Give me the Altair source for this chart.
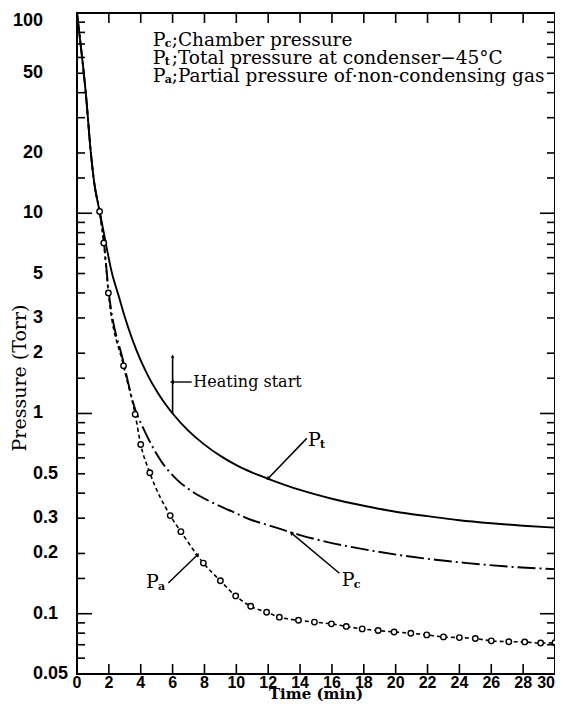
import altair as alt
import pandas as pd

# ---------------- data ----------------
pt_time = [0, 0.3, 0.55, 0.87, 1.08, 1.42, 1.68, 2.2, 2.6, 3.0, 3.5, 4.0, 4.5, 5.0, 5.5, 6.0,
           7.0, 8.0, 9.0, 10.0, 11.0, 12.0, 14.0, 16.0, 18.0, 20.0, 22.0, 24.0, 26.0, 28.0, 30.0]
pt_pres = [100, 62, 40, 20, 14.2, 10.2, 8.0, 5.0, 3.9, 3.03, 2.31, 1.84, 1.52, 1.296, 1.128, 1.0,
           0.819, 0.699, 0.614, 0.552, 0.507, 0.472, 0.415, 0.375, 0.346, 0.323, 0.307, 0.293,
           0.283, 0.275, 0.269]

pc_time = [0, 0.3, 0.55, 0.87, 1.08, 1.42, 1.68, 1.97, 2.92, 3.65, 4.2, 4.75, 5.3, 6.3, 7.25,
           8.4, 9.7, 11.0, 12.0, 14.0, 15.6, 17.7, 20.3, 22.5, 24.5, 27.0, 30.0]
pc_pres = [100, 62, 40, 20, 14.2, 10.2, 7.3, 4.2, 1.8, 1.05, 0.83, 0.68, 0.575, 0.465, 0.407,
           0.362, 0.325, 0.293, 0.277, 0.247, 0.229, 0.212, 0.196, 0.186, 0.179, 0.172, 0.167]

pa_head_time = [0, 0.3, 0.55, 0.87, 1.08]
pa_head_pres = [100, 62, 40, 20, 14.2]
pa_time = [1.42, 1.68, 1.97, 2.92, 3.65, 4.0, 4.57, 5.85, 6.52, 7.93, 9.0, 9.96, 10.9, 11.9,
           12.7, 13.9, 14.9, 15.97, 16.9, 17.9, 18.9, 19.9, 20.95, 21.95, 23.0, 24.0, 25.0,
           26.0, 27.1, 28.1, 29.1, 30.0]
pa_pres = [10.2, 7.1, 4.0, 1.73, 0.99, 0.70, 0.506, 0.309, 0.257, 0.179, 0.146, 0.1227, 0.109,
           0.1017, 0.0961, 0.0927, 0.0908, 0.089, 0.0864, 0.084, 0.0824, 0.0811, 0.0799, 0.0784,
           0.0766, 0.076, 0.0752, 0.0732, 0.0725, 0.0723, 0.0714, 0.0716]

y_major_ticks = [10, 1, 0.1]
y_minor_ticks = [90, 80, 70, 60, 50, 40, 30, 20, 15, 9, 8, 7, 6, 5, 4, 3, 2, 1.5,
                 0.9, 0.8, 0.7, 0.6, 0.5, 0.4, 0.3, 0.2, 0.15, 0.09, 0.08, 0.07, 0.06]
x_ticks = [2, 4, 6, 8, 10, 12, 14, 16, 18, 20, 22, 24, 26, 28]
x_labels = [0, 2, 4, 6, 8, 10, 12, 14, 16, 18, 20, 22, 24, 26, 28]
x_last_label = [30]
y_top_label = [100]
y_int_labels = [50, 20, 10, 5, 3, 2, 1]
y_dec_labels = [0.5, 0.3, 0.2, 0.1, 0.05]
x_title = "Time (min)"
y_title = "Pressure (Torr)"

legend_sym = ["P", "P", "P"]
legend_sub = ["c", "t", "a"]
legend_rest = [";Chamber pressure",
               ";Total pressure at condenser\u221245\u00b0C",
               ";Partial pressure of\u00b7non-condensing gas"]
legend_time = [4.75, 4.75, 4.75]
legend_pres = [73.0, 59.5, 48.7]

heat_time = 6.0
heat_line_pres = [1.0, 1.92]
heat_arrow_time = [6.0, 7.2]
heat_arrow_pres = 1.436
heat_text = "Heating start"
heat_text_time = 7.3

# curve labels: label position, arrow start, arrow end
lab_name = ["P", "P", "P"]
lab_sub = ["t", "c", "a"]
lab_time = [14.5, 16.62, 4.33]
lab_pres = [0.737, 0.1474, 0.1445]
arr_t0 = [14.42, 16.47, 5.73]
arr_p0 = [0.751, 0.1592, 0.1424]
arr_t1 = [12.01, 13.48, 7.55]
arr_p1 = [0.475, 0.252, 0.1964]

# ---------------- chart ----------------
W, H = 478, 661
SERIF = "DejaVu Serif"
SANS = "Liberation Sans"

xs = alt.Scale(domain=[0, 30], nice=False, zero=False)
ys = alt.Scale(type="log", domain=[0.05, 100], nice=False)


def X(field):
    return alt.X(field, type="quantitative", scale=xs, axis=None)


def Y(field):
    return alt.Y(field, type="quantitative", scale=ys, axis=None)


pt_df = pd.DataFrame({"t": pt_time, "p": pt_pres})
pc_df = pd.DataFrame({"t": pc_time, "p": pc_pres})
pa_line_df = pd.DataFrame({"t": pa_head_time + pa_time, "p": pa_head_pres + pa_pres})
pa_df = pd.DataFrame({"t": pa_time, "p": pa_pres})

pt_line = alt.Chart(pt_df).mark_line(color="black", strokeWidth=1.9, interpolate="monotone").encode(
    x=X("t"), y=Y("p"))
pc_line = alt.Chart(pc_df).mark_line(color="black", strokeWidth=1.9, interpolate="monotone",
                                     strokeDash=[18, 4, 2, 4]).encode(x=X("t"), y=Y("p"))
pa_line = alt.Chart(pa_line_df).mark_line(color="black", strokeWidth=1.6, interpolate="monotone",
                                          strokeDash=[4, 3]).encode(x=X("t"), y=Y("p"))
pa_pts = alt.Chart(pa_df).mark_point(shape="circle", size=30, filled=True, fill="white",
                                     stroke="black", strokeWidth=1.4, opacity=1).encode(x=X("t"), y=Y("p"))

# inward ticks
ymaj = pd.DataFrame({"v": y_major_ticks})
ymin = pd.DataFrame({"v": y_minor_ticks})
xt = pd.DataFrame({"t": x_ticks})
tick_style = dict(color="black", strokeWidth=1.6)
ticks = [
    alt.Chart(ymaj).mark_rule(**tick_style).encode(y=Y("v"), x=alt.value(0), x2=alt.value(15)),
    alt.Chart(ymin).mark_rule(**tick_style).encode(y=Y("v"), x=alt.value(0), x2=alt.value(8)),
    alt.Chart(ymaj).mark_rule(**tick_style).encode(y=Y("v"), x=alt.value(W - 15), x2=alt.value(W)),
    alt.Chart(ymin).mark_rule(**tick_style).encode(y=Y("v"), x=alt.value(W - 8), x2=alt.value(W)),
    alt.Chart(xt).mark_rule(**tick_style).encode(x=X("t"), y=alt.value(H), y2=alt.value(H - 10)),
    alt.Chart(xt).mark_rule(**tick_style).encode(x=X("t"), y=alt.value(0), y2=alt.value(10)),
]

# tick labels and axis titles
lab_font = dict(font=SANS, fontWeight="bold", fontSize=18, color="black")
xlab_font = dict(font=SANS, fontWeight="bold", fontSize=16, color="black")
labels = [
    alt.Chart(pd.DataFrame({"v": y_top_label})).mark_text(align="right", baseline="top", dy=-1, **lab_font)
    .encode(y=Y("v"), x=alt.value(-34), text=alt.Text("v:Q", format="~g")),
    alt.Chart(pd.DataFrame({"v": y_int_labels})).mark_text(align="right", baseline="middle", **lab_font)
    .encode(y=Y("v"), x=alt.value(-34), text=alt.Text("v:Q", format="~g")),
    alt.Chart(pd.DataFrame({"v": y_dec_labels})).mark_text(align="left", baseline="middle", **lab_font)
    .encode(y=Y("v"), x=alt.value(-44), text=alt.Text("v:Q", format="~g")),
    alt.Chart(pd.DataFrame({"t": x_labels})).mark_text(align="center", baseline="top", **xlab_font)
    .encode(x=X("t"), y=alt.value(H + 1), text=alt.Text("t:Q", format="d")),
    alt.Chart(pd.DataFrame({"t": x_last_label})).mark_text(align="right", baseline="top", **xlab_font)
    .encode(x=X("t"), y=alt.value(H + 1), text=alt.Text("t:Q", format="d")),
    alt.Chart(pd.DataFrame({"s": [x_title]})).mark_text(align="center", baseline="alphabetic", font=SERIF,
                                                        fontSize=15, fontWeight="bold", color="black")
    .encode(x=alt.value(W / 2), y=alt.value(H + 25), text="s:N"),
    alt.Chart(pd.DataFrame({"s": [y_title]})).mark_text(align="center", baseline="middle", font=SERIF,
                                                        fontSize=19, angle=270, color="black")
    .encode(x=alt.value(-57), y=alt.value(365), text="s:N"),
]

# legend block
leg_df = pd.DataFrame({"t": legend_time, "p": legend_pres, "sym": legend_sym,
                       "sub": legend_sub, "rest": legend_rest})
legend = [
    alt.Chart(leg_df).mark_text(align="left", baseline="middle", font=SERIF, fontSize=19, color="black")
    .encode(x=X("t"), y=Y("p"), text="sym:N"),
    alt.Chart(leg_df).mark_text(align="left", baseline="middle", font=SERIF, fontSize=11, dx=12, dy=4,
                                color="black", fontWeight="bold")
    .encode(x=X("t"), y=Y("p"), text="sub:N"),
    alt.Chart(leg_df).mark_text(align="left", baseline="middle", font=SERIF, fontSize=18.5, dx=19, color="black")
    .encode(x=X("t"), y=Y("p"), text="rest:N"),
]

# heating start annotation
heat_v = pd.DataFrame({"t": [heat_time, heat_time], "p": heat_line_pres})
heat_h = pd.DataFrame({"t": heat_arrow_time, "p": [heat_arrow_pres, heat_arrow_pres]})
heat = [
    alt.Chart(heat_v).mark_line(color="black", strokeWidth=1.6).encode(x=X("t"), y=Y("p")),
    alt.Chart(heat_v.iloc[[1]]).mark_point(shape="triangle", angle=0, size=14, filled=True,
                                           color="black", opacity=1).encode(x=X("t"), y=Y("p")),
    alt.Chart(heat_h).mark_line(color="black", strokeWidth=1.4).encode(x=X("t"), y=Y("p")),
    alt.Chart(heat_h.iloc[[0]]).mark_point(shape="triangle", angle=270, size=22, filled=True,
                                           color="black", opacity=1, dx=3).encode(x=X("t"), y=Y("p")),
    alt.Chart(pd.DataFrame({"t": [heat_text_time], "p": [heat_arrow_pres], "s": [heat_text]}))
    .mark_text(align="left", baseline="middle", font=SERIF, fontSize=16, color="black")
    .encode(x=X("t"), y=Y("p"), text="s:N"),
]

# curve labels with arrows
angles = [225, 309, 46]
curve_labels = []
for i in range(3):
    seg = pd.DataFrame({"t": [arr_t0[i], arr_t1[i]], "p": [arr_p0[i], arr_p1[i]]})
    curve_labels.append(alt.Chart(seg).mark_line(color="black", strokeWidth=1.5).encode(x=X("t"), y=Y("p")))
    curve_labels.append(alt.Chart(seg.iloc[[1]]).mark_point(shape="triangle", angle=angles[i], size=20,
                                                            filled=True, color="black", opacity=1)
                        .encode(x=X("t"), y=Y("p")))
    lab = pd.DataFrame({"t": [lab_time[i]], "p": [lab_pres[i]], "s": [lab_name[i]], "u": [lab_sub[i]]})
    curve_labels.append(alt.Chart(lab).mark_text(align="left", baseline="middle", font=SERIF, fontSize=19,
                                                 color="black").encode(x=X("t"), y=Y("p"), text="s:N"))
    curve_labels.append(alt.Chart(lab).mark_text(align="left", baseline="middle", font=SERIF, fontSize=11,
                                                 fontWeight="bold", dx=12, dy=5, color="black")
                        .encode(x=X("t"), y=Y("p"), text="u:N"))

chart = alt.layer(pt_line, pc_line, pa_line, pa_pts, *ticks, *labels, *legend, *heat, *curve_labels).properties(
    width=W, height=H,
    autosize=alt.AutoSizeParams(type="none"),
    padding={"left": 69, "top": 5, "right": 0, "bottom": 28},
    background="white",
).configure_view(stroke="black", strokeWidth=2)

chart.save("out.html", embed_options={"renderer": "svg", "actions": False})
